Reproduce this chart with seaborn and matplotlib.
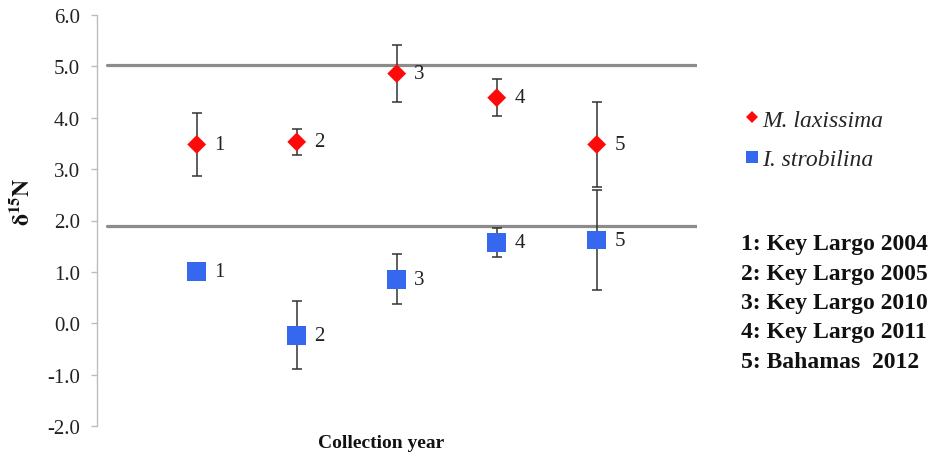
import matplotlib
matplotlib.use("Agg")
import matplotlib.pyplot as plt
import seaborn as sns
import pandas as pd
from matplotlib.lines import Line2D
from matplotlib.ticker import FuncFormatter, FixedLocator

# ---- data ----
sites = [1, 2, 3, 4, 5]
laxissima_mean = [3.48, 3.53, 4.86, 4.39, 3.48]
laxissima_err = [0.62, 0.25, 0.56, 0.36, 0.82]
strobilina_mean = [1.01, -0.23, 0.86, 1.57, 1.62]
strobilina_err = [0.0, 0.67, 0.48, 0.29, 0.97]
point_labels = ["1", "2", "3", "4", "5"]
ref_lines = [5.02, 1.90]
y_ticks = [-2.0, -1.0, 0.0, 1.0, 2.0, 3.0, 4.0, 5.0, 6.0]
species = ["M. laxissima", "I. strobilina"]
key_lines = ["1: Key Largo 2004", "2: Key Largo 2005", "3: Key Largo 2010",
             "4: Key Largo 2011", "5: Bahamas  2012"]

RED = "#FF0A0A"
BLUE = "#3568EE"
SERIF = ["Liberation Serif", "DejaVu Serif"]

sns.set_theme(style="white")
plt.rcParams["font.family"] = SERIF
plt.rcParams["mathtext.fontset"] = "stix"

df_m = pd.DataFrame({"site": sites, "d15N": laxissima_mean, "err": laxissima_err})
df_i = pd.DataFrame({"site": sites, "d15N": strobilina_mean, "err": strobilina_err})

fig = plt.figure(figsize=(9.37, 4.60), dpi=100)
ax = fig.add_axes([96.7 / 937, 33 / 460, 600 / 937, 411 / 460])

for y in ref_lines:
    ax.axhline(y, xmin=0.018, xmax=1.0, color="#8c8c8c", lw=2.3, zorder=1)

for df in (df_m, df_i):
    mask = df["err"] > 0
    ax.errorbar(df.loc[mask, "site"], df.loc[mask, "d15N"], yerr=df.loc[mask, "err"],
                fmt="none", ecolor="#333333", elinewidth=1.1, capsize=3.3,
                capthick=1.1, zorder=2)

sns.scatterplot(data=df_m, x="site", y="d15N", marker="D", s=92, color=RED,
                edgecolor="none", ax=ax, zorder=3, legend=False)
sns.scatterplot(data=df_i, x="site", y="d15N", marker="s", s=185, color=BLUE,
                edgecolor="none", ax=ax, zorder=3, legend=False)

for df in (df_m, df_i):
    for xs, ys, lab in zip(df["site"], df["d15N"], point_labels):
        ax.text(xs + 0.175, ys, lab, fontsize=15, ha="left", va="center",
                color="#222222", family=SERIF)

ax.set_xlim(0, 6)
ax.set_ylim(-2.0, 6.0)
ax.yaxis.set_major_locator(FixedLocator(y_ticks))
ax.yaxis.set_major_formatter(FuncFormatter(lambda v, p: f"{v:.1f}"))
ax.set_xticks([])
for s in ("top", "right", "bottom"):
    ax.spines[s].set_visible(False)
ax.spines["left"].set_color("#bdbdbd")
ax.spines["left"].set_linewidth(1.0)
ax.tick_params(axis="y", which="major", left=True, direction="out", length=4,
               width=1.0, color="#bdbdbd", labelsize=15, labelcolor="#222222", pad=8)

ax.set_xlabel("Collection year", fontsize=14, fontweight="bold", color="#111111")
ax.xaxis.set_label_coords((381 - 96.7) / 600, (427 - 444) / 411)
ax.xaxis.label.set_va("center")
ax.set_ylabel(r"$\mathbf{\delta^{15}N}$", fontsize=17, color="#111111")
ax.yaxis.set_label_coords((22 - 96.7) / 600, (427 - 202) / 411)
ax.yaxis.label.set_va("center")

handles = [Line2D([0], [0], marker="D", linestyle="none", color=RED, markersize=6.5,
                  markeredgewidth=0),
           Line2D([0], [0], marker="s", linestyle="none", color=BLUE, markersize=8.5,
                  markeredgewidth=0)]
leg = fig.legend(handles, species, loc="upper left",
                 bbox_to_anchor=(746 / 937, 1 - 110 / 460),
                 frameon=False, handlelength=0.5, handletextpad=0.2, labelspacing=0.75,
                 borderpad=0, borderaxespad=0,
                 prop={"family": SERIF, "style": "italic", "size": 17})

for i, line in enumerate(key_lines):
    fig.text(741 / 937, 1 - (245 + i * 29.3) / 460, line, fontsize=17, fontweight="bold",
             family=SERIF, ha="left", va="center", color="#111111")

fig.savefig("out.png", dpi=100)
